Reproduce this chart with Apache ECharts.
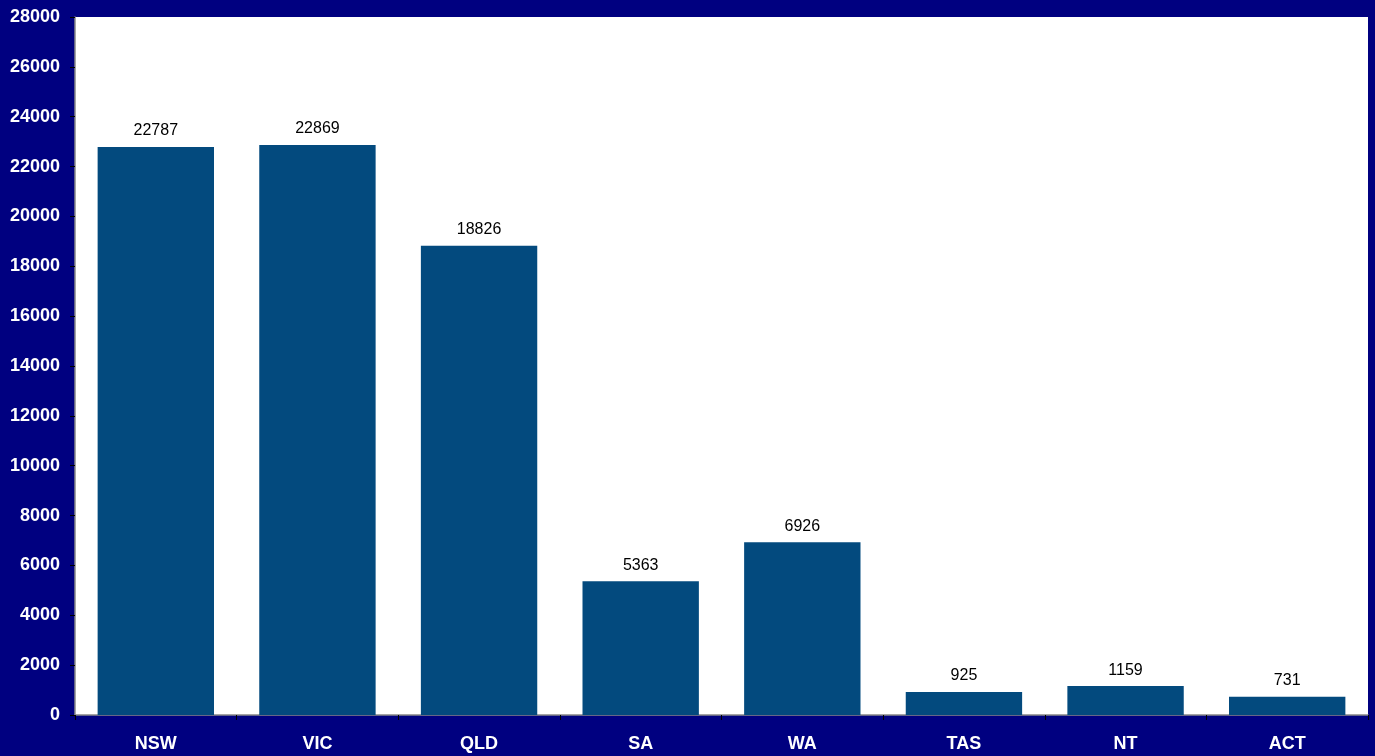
<!DOCTYPE html>
<html><head><meta charset="utf-8">
<script src="https://cdn.jsdelivr.net/npm/echarts@6/dist/echarts.min.js"></script>
<style>html,body{margin:0;padding:0;background:#000080;}#c{width:1375px;height:756px;}</style>
</head><body><div id="c"></div>
<script>
const categories = ['NSW','VIC','QLD','SA','WA','TAS','NT','ACT'];
const values = [22787,22869,18826,5363,6926,925,1159,731];
const yMin = 0, yMax = 28000, yStep = 2000;

const chart = echarts.init(document.getElementById('c'));
chart.setOption({
  backgroundColor:'#000080',
  animation:false,
  grid:{left:75,top:17,right:7,bottom:41,show:true,backgroundColor:'#ffffff',borderWidth:0},
  xAxis:{type:'category',data:categories,
    axisLine:{lineStyle:{color:'#888888',width:1.5}},
    axisTick:{show:true,alignWithLabel:false,length:5,lineStyle:{color:'#000000'}},
    axisLabel:{color:'#ffffff',fontWeight:'bold',fontSize:18,fontFamily:'Liberation Sans, Arial',margin:20}},
  yAxis:{type:'value',min:yMin,max:yMax,interval:yStep,
    splitLine:{show:false},
    axisLine:{show:true,lineStyle:{color:'#888888',width:1.5}},
    axisTick:{show:true,length:5,lineStyle:{color:'#000000'}},
    axisLabel:{color:'#ffffff',fontWeight:'bold',fontSize:18,fontFamily:'Liberation Sans, Arial',margin:15,
      formatter:function(v){return String(v);}}},
  series:[{type:'bar',data:values,barCategoryGap:'28%',
    itemStyle:{color:'#034A7E'},
    label:{show:true,position:'top',distance:8,color:'#000000',fontSize:16,fontFamily:'Liberation Sans, Arial'}}]
});
</script></body></html>
